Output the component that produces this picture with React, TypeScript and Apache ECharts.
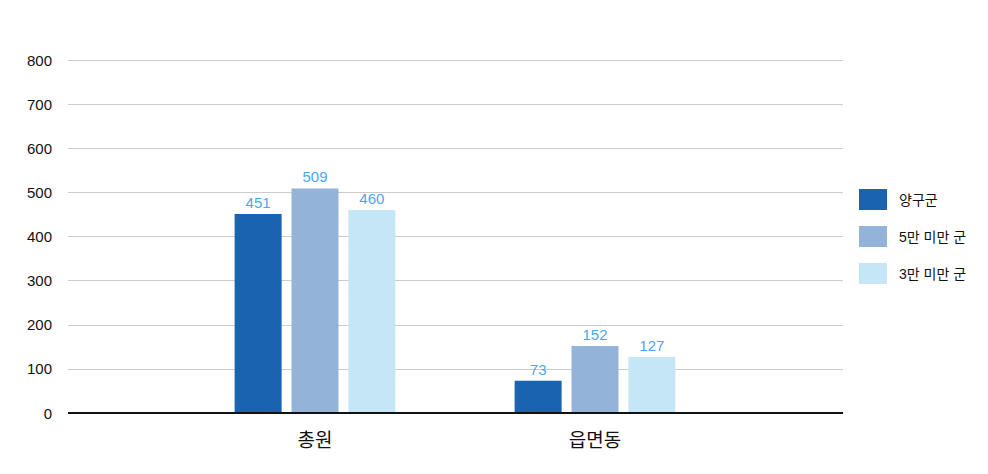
import React, { useEffect, useRef } from "react";
import * as echarts from "echarts";

const categories = ["총원", "읍면동"];
const seriesNames = ["양구군", "5만 미만 군", "3만 미만 군"];
const yanggu = [451, 73];
const under50k = [509, 152];
const under30k = [460, 127];
const colors = ["#1a63b0", "#93b4d8", "#c4e6f6"];

export default function App() {
  const ref = useRef<HTMLDivElement>(null);
  useEffect(() => {
    const chart = echarts.init(ref.current!, null, { renderer: "svg" });
    const font = "Helvetica, Arial, 'Liberation Sans', 'Noto Sans CJK KR', sans-serif";
    const values = [yanggu, under50k, under30k];
    chart.setOption({
      animation: false,
      textStyle: { fontFamily: font },
      legend: {
        orient: "vertical",
        left: 846,
        top: 176,
        itemWidth: 28,
        itemHeight: 21,
        itemGap: 16,
        icon: "rect",
        textStyle: { fontSize: 14, color: "#111", fontFamily: font, padding: [0, 0, 0, 7] },
        data: seriesNames,
      },
      grid: [
        { left: 60, right: 137, top: 52, bottom: 53, containLabel: false },
        { left: 167, right: 245, top: 52, bottom: 53, containLabel: false },
      ],
      xAxis: [
        {
          gridIndex: 0,
          type: "value",
          min: 0,
          max: 1,
          axisLine: { show: false },
          axisTick: { show: false },
          axisLabel: { show: false },
          splitLine: { show: false },
        },
        {
          gridIndex: 1,
          type: "category",
          data: categories,
          axisLine: { show: false },
          axisTick: { show: false },
          axisLabel: { fontSize: 19, color: "#111", margin: 18, fontFamily: font },
        },
      ],
      yAxis: [
        {
          gridIndex: 0,
          type: "value",
          min: 0,
          max: 800,
          interval: 100,
          axisLine: { show: false },
          axisTick: { show: false },
          axisLabel: { fontSize: 15, color: "#111", margin: 16, fontFamily: font },
          splitLine: { lineStyle: { color: "#cccccc", width: 1 } },
        },
        {
          gridIndex: 1,
          type: "value",
          min: 0,
          max: 800,
          interval: 100,
          show: false,
          splitLine: { show: false },
        },
      ],
      series: [
        ...seriesNames.map((name, i) => ({
          name,
          type: "bar",
          xAxisIndex: 1,
          yAxisIndex: 1,
          data: values[i],
          barWidth: 47,
          barGap: "21%",
          itemStyle: { color: colors[i] },
          label: {
            show: true,
            position: "top",
            distance: 4,
            color: "#4aa8f0",
            fontSize: 15,
            fontFamily: font,
          },
        })),
        {
          type: "line",
          xAxisIndex: 0,
          yAxisIndex: 0,
          data: [[0, 0], [1, 0]],
          symbol: "none",
          silent: true,
          lineStyle: { color: "#111", width: 2 },
          z: 10,
        },
      ],
    });
    return () => chart.dispose();
  }, []);
  return <div ref={ref} style={{ width: 972, height: 458 }} />;
}
